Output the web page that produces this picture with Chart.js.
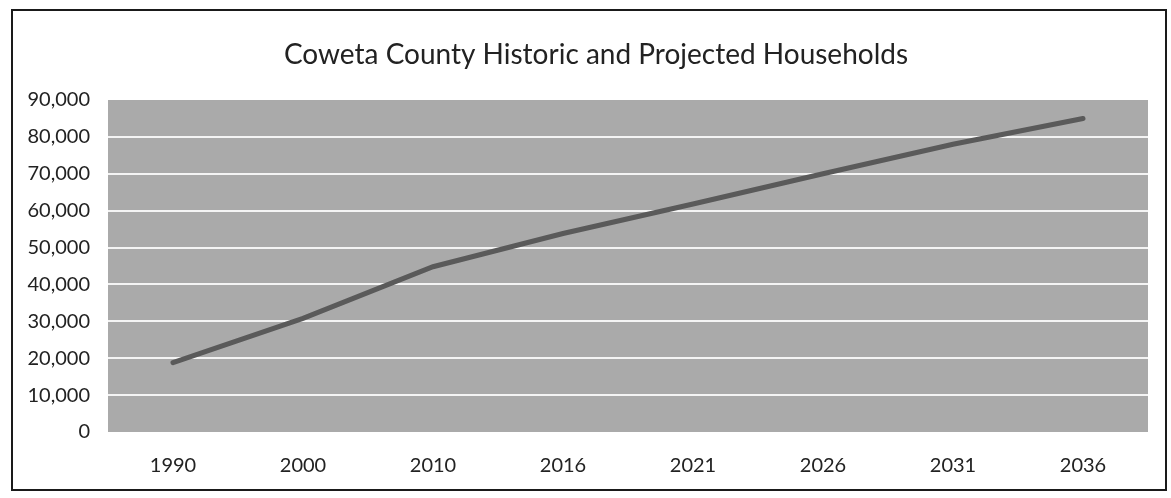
<!DOCTYPE html>
<html>
<head>
<meta charset="utf-8">
<script src="https://cdn.jsdelivr.net/npm/chart.js@4.4.1/dist/chart.umd.min.js"></script>
<style>
  html, body { margin: 0; padding: 0; background: #fff; }
  #wrap { width: 1171px; height: 498px; }
</style>
</head>
<body>
<div id="wrap"><canvas id="grafico"></canvas></div>
<script>
// Households by year (historic + projected)
const anos = ['1990', '2000', '2010', '2016', '2021', '2026', '2031', '2036'];
const domicilios = [18800, 30800, 44800, 53800, 61800, 70000, 78000, 85000];
const tituloGrafico = 'Coweta County Historic and Projected Households';

const fonte = "Lato, 'Open Sans', sans-serif";

// Grey plot area background
const fundoArea = {
    id: 'fundoArea',
    beforeDraw(chart) {
        const { ctx, chartArea: a } = chart;
        ctx.save();
        ctx.fillStyle = '#aaaaaa';
        ctx.fillRect(a.left, a.top, a.right - a.left, a.bottom - a.top);
        ctx.restore();
    }
};

// Frame around the whole chart and the title, centred over the frame
const moldura = {
    id: 'moldura',
    afterDraw(chart) {
        const ctx = chart.ctx;
        ctx.save();
        ctx.strokeStyle = '#1a1a1a';
        ctx.lineWidth = 2;
        ctx.strokeRect(12, 10, 1154, 480);
        ctx.fillStyle = '#222';
        ctx.font = `28px ${fonte}`;
        ctx.textAlign = 'center';
        ctx.textBaseline = 'middle';
        ctx.fillText(tituloGrafico, 596, 55);
        ctx.restore();
    }
};

new Chart(document.getElementById('grafico'), {
    type: 'line',
    data: {
        labels: anos,
        datasets: [{
            label: 'Households',
            data: domicilios,
            borderColor: '#5a5a5a',
            borderWidth: 5,
            borderCapStyle: 'round',
            pointRadius: 0,
            tension: 0
        }]
    },
    options: {
        responsive: true,
        maintainAspectRatio: false,
        animation: false,
        layout: { padding: { left: 0, right: 23, top: 100, bottom: 0 } },
        plugins: {
            legend: { display: false },
            tooltip: { enabled: false },
            title: { display: false }
        },
        scales: {
            x: {
                offset: true,
                grid: { display: false, drawTicks: false },
                border: { display: false },
                ticks: {
                    color: '#222',
                    font: { family: fonte, size: 20 },
                    padding: 22,
                    maxRotation: 0
                },
                afterFit(axis) { axis.height = 66; }
            },
            y: {
                min: 0,
                max: 90000,
                border: { display: false },
                grid: {
                    drawTicks: false,
                    lineWidth: 2,
                    color: (c) => (c.tick && (c.tick.value === 0 || c.tick.value === 90000)) ? 'rgba(0,0,0,0)' : '#f4f4f4'
                },
                ticks: {
                    stepSize: 10000,
                    color: '#222',
                    font: { family: fonte, size: 20 },
                    padding: 18,
                    callback: (v) => v.toLocaleString('en-US')
                },
                afterFit(axis) { axis.width = 108; }
            }
        }
    },
    plugins: [fundoArea, moldura]
});
</script>
</body>
</html>
